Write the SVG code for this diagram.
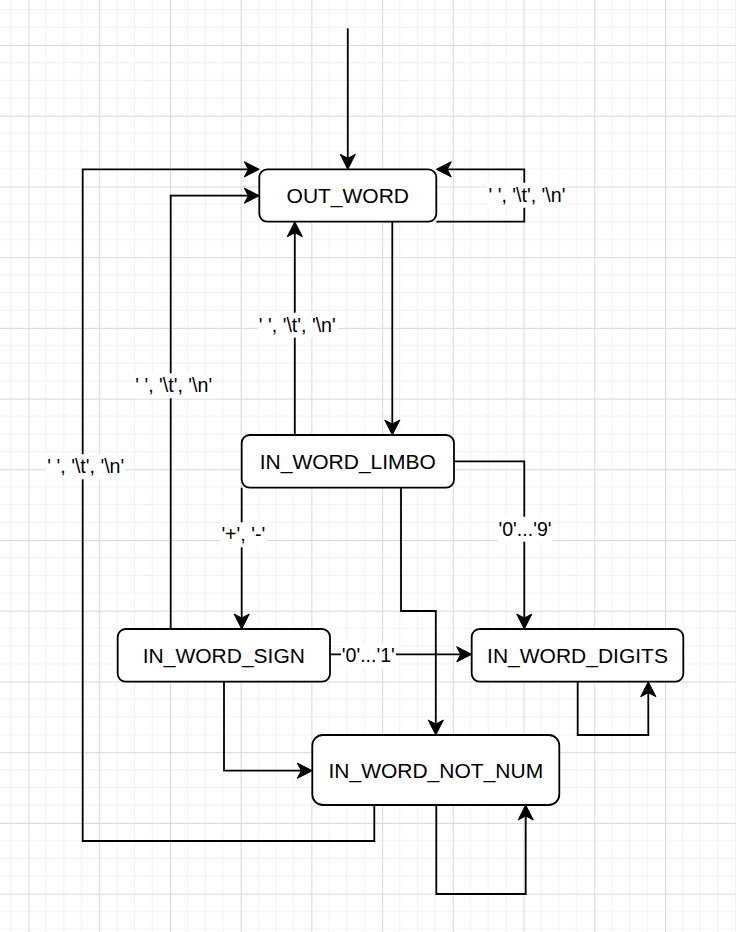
<svg xmlns="http://www.w3.org/2000/svg" width="736" height="932" viewBox="0 0 736 932">
<defs>
<pattern id="grid" patternUnits="userSpaceOnUse" x="28.5" y="45" width="70.72" height="70.72">
<rect x="17.18" y="0" width="1" height="70.72" fill="#f2f2f2"/>
<rect x="34.86" y="0" width="1" height="70.72" fill="#f2f2f2"/>
<rect x="52.54" y="0" width="1" height="70.72" fill="#f2f2f2"/>
<rect x="0" y="17.18" width="70.72" height="1" fill="#f2f2f2"/>
<rect x="0" y="34.86" width="70.72" height="1" fill="#f2f2f2"/>
<rect x="0" y="52.54" width="70.72" height="1" fill="#f2f2f2"/>
<rect x="0" y="0" width="1" height="70.72" fill="#d9d9d9"/>
<rect x="0" y="0" width="70.72" height="1" fill="#d9d9d9"/>
</pattern>
<marker id="arr" markerUnits="userSpaceOnUse" viewBox="-5 -9 22 18" markerWidth="22" markerHeight="18" refX="0" refY="0" orient="auto" overflow="visible">
<path d="M11,0 L-4,-7.6 L0,0 L-4,7.6 Z" fill="#000" stroke="#000" stroke-width="1" stroke-linejoin="miter"/>
</marker>
<style>
.node rect{fill:#fff;stroke:#000;stroke-width:1.8}
.node text{font-family:"Liberation Sans",Arial,sans-serif;font-size:21px;fill:#000;text-anchor:middle}
.edges path{fill:none;stroke:#000;stroke-width:1.8}
.edges path.a{marker-end:url(#arr)}
.lbl rect{fill:#fff}
.lbl text{font-family:"Liberation Sans",Arial,sans-serif;font-size:19.6px;fill:#000;text-anchor:middle}
</style>
</defs>
<rect x="0" y="0" width="736" height="932" fill="#fff"/>
<rect x="0" y="0" width="736" height="932" fill="url(#grid)"/>

<g id="connectors" class="edges">
<path class="a" d="M347.8,28.3 V158.3"/>
<path class="a" d="M436.3,221.7 H524.3 V169.3 H447.3"/>
<path class="a" d="M392.3,221.7 V424"/>
<path class="a" d="M294.8,435 V232.7"/>
<path class="a" d="M241.7,487.7 V618"/>
<path class="a" d="M454,461.3 H524.3 V618"/>
<path class="a" d="M401,487.7 V611 H435.8 V724"/>
<path class="a" d="M170.7,629 V195.7 H248.3"/>
<path class="a" d="M330,654.3 H460.7"/>
<path class="a" d="M224,681.7 V770.7 H301.3"/>
<path class="a" d="M577.7,681.7 V735 H648.3 V692.7"/>
<path class="a" d="M374.3,805 V841 H82.7 V169.3 H248.3"/>
<path class="a" d="M436.3,805 V894 H525.7 V816"/>
<g class="lbl">
<rect x="487" y="182.7" width="80" height="25"/>
<text x="527" y="201.7">' ', '\t', '\n'</text>
<rect x="257.3" y="312.7" width="80" height="25"/>
<text x="297.3" y="331.7">' ', '\t', '\n'</text>
<rect x="133.7" y="373.3" width="80" height="25"/>
<text x="173.7" y="392.3">' ', '\t', '\n'</text>
<rect x="45.8" y="454.3" width="80" height="25"/>
<text x="85.8" y="473.3">' ', '\t', '\n'</text>
<rect x="220.3" y="522.3" width="46" height="25"/>
<text x="243.3" y="541.3">'+', '-'</text>
<rect x="497.5" y="516.7" width="55" height="25"/>
<text x="525" y="535.7">'0'...'9'</text>
<rect x="341" y="643.3" width="55" height="25"/>
<text x="368.3" y="662.3">'0'...'1'</text>
</g>
</g>

<g id="OUT_WORD" class="node">
<rect x="259.3" y="169.3" width="177" height="52.4" rx="8"/>
<text x="347.8" y="203.2">OUT_WORD</text>
</g>
<g id="IN_WORD_LIMBO" class="node">
<rect x="241.7" y="435" width="212.3" height="52.7" rx="8"/>
<text x="347.85" y="468.9">IN_WORD_LIMBO</text>
</g>
<g id="IN_WORD_SIGN" class="node">
<rect x="117.7" y="629" width="212.3" height="52.7" rx="8"/>
<text x="223.85" y="662.9">IN_WORD_SIGN</text>
</g>
<g id="IN_WORD_DIGITS" class="node">
<rect x="471.7" y="629" width="211.6" height="52.7" rx="8"/>
<text x="577.5" y="662.9">IN_WORD_DIGITS</text>
</g>
<g id="IN_WORD_NOT_NUM" class="node">
<rect x="312.3" y="735" width="247" height="70" rx="10.5"/>
<text x="435.8" y="777.6">IN_WORD_NOT_NUM</text>
</g>
</svg>
